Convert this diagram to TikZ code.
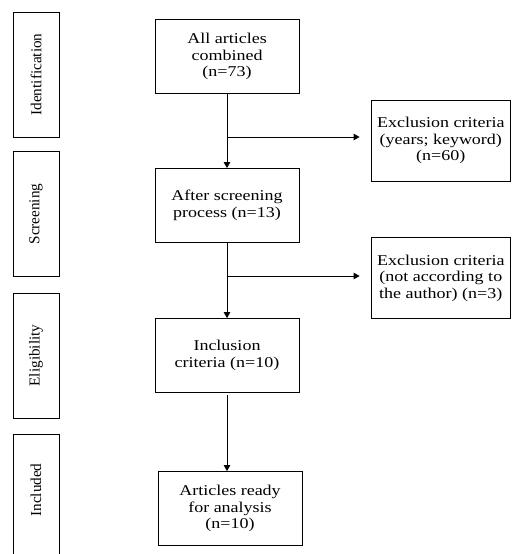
\documentclass[tikz,border=0pt]{standalone}
\usepackage{fontspec}
\setmainfont{Liberation Serif}[FakeStretch=1.2]
\newfontfamily\stagefont{Liberation Serif}
\usetikzlibrary{arrows.meta}

\begin{document}
\begin{tikzpicture}[
  x=1pt, y=-1pt,
  box/.style={draw, line width=0.8pt, minimum width=144pt, minimum height=74pt, inner sep=0pt, align=center, font=\fontsize{15}{16.5}\selectfont},
  excl/.style={box, minimum width=139.5pt, minimum height=81pt},
  stage/.style={draw, line width=0.8pt, minimum width=125pt, minimum height=46pt, inner sep=0pt, rotate=90, font=\stagefont\fontsize{15.2}{19}\selectfont},
  arr/.style={-{Triangle[length=6pt,width=6.5pt]}, line width=0.8pt}
]
\useasboundingbox (0,0) rectangle (512,554);

% stages on the left
\node[stage] (ident)  at (36,74.5) {Identification};
\node[stage] (screen) at (36,214)  {Screening};
\node[stage] (elig)   at (36,355.5) {Eligibility};
\node[stage, minimum width=130pt] (incl) at (36,499) {};
\node[rotate=90, font=\stagefont\fontsize{15.2}{19}\selectfont] (incltext) at (36,490) {Included};

% main flow
\node[box] (combined)  at (227,56.5)  {All articles\\ combined\\ (n=73)};
\node[box] (screened)  at (227,205.5) {After screening\\ process (n=13)};
\node[box] (inclusion) at (227,355.5) {Inclusion\\ criteria (n=10)};
\node[box] (ready) at (230,508.5) {Articles ready\\ for analysis\\ (n=10)};

% exclusions
\node[excl] (excl1) at (440.75,140.5) {Exclusion criteria\\ (years; keyword)\\ (n=60)};
\node[excl] (excl2) at (440.75,278)   {Exclusion criteria\\ (not according to\\ the author) (n=3)};

\coordinate (b1) at (227,137);
\coordinate (b2) at (227,276);

\draw[arr] (combined.south) -- (screened.north);
\draw[arr] (screened.south) -- (inclusion.north);
\draw[arr] ([yshift=-2pt]inclusion.south) -- (inclusion.south |- ready.north);
\draw[arr] (b1) -- ([xshift=-11pt]b1 -| excl1.west);
\draw[arr] (b2) -- ([xshift=-11pt]b2 -| excl2.west);
\end{tikzpicture}
\end{document}
